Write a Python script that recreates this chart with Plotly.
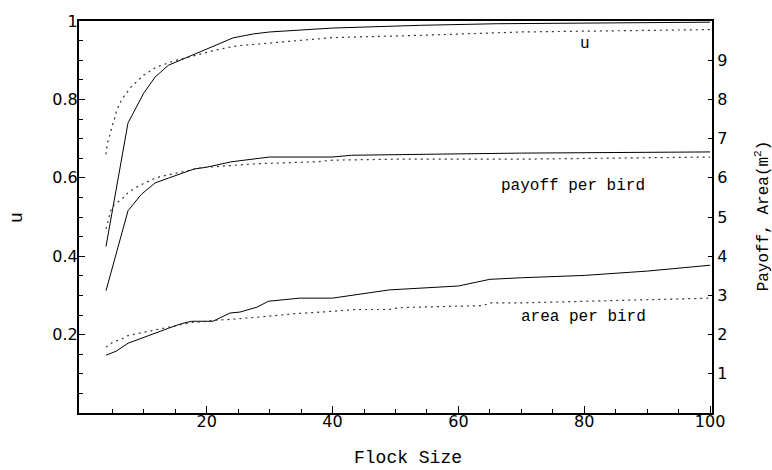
import plotly.graph_objects as go

# Flock size samples and curves (u on the left axis; payoff/area on the right axis)
u_solid_x = [4, 7.5, 10, 11.8, 13.9, 17.6, 20, 23.2, 24.2, 27.4, 30, 40, 54, 66, 80, 100]
u_solid_y = [0.425, 0.74, 0.816, 0.857, 0.887, 0.912, 0.928, 0.949, 0.957, 0.967, 0.972,
             0.982, 0.989, 0.993, 0.995, 0.997]

u_dot_x = [4, 4.2, 4.6, 4.9, 5.4, 5.7, 6.5, 8, 10, 12, 15, 19, 22, 25, 28, 35, 40, 55, 70, 100]
u_dot_y = [0.66, 0.687, 0.708, 0.728, 0.753, 0.772, 0.8, 0.832, 0.862, 0.8825, 0.899, 0.916,
           0.928, 0.937, 0.941, 0.949, 0.9575, 0.964, 0.972, 0.978]

pay_solid_x = [4, 7.5, 9.6, 11.8, 13.9, 16, 18, 20, 24, 28, 30, 40, 43, 55, 70, 100]
pay_solid_y = [3.12, 5.16, 5.575, 5.87, 5.99, 6.12, 6.225, 6.27, 6.41, 6.49, 6.53, 6.53,
               6.575, 6.6, 6.63, 6.66]

pay_dot_x = [4, 4.9, 5.4, 6.5, 7.5, 8.6, 9.9, 11.2, 12.6, 13.9, 15.2, 16.5, 17.9, 19.2, 21,
             25, 28, 37.5, 40, 50, 70, 100]
pay_dot_y = [4.7, 5.24, 5.325, 5.45, 5.62, 5.74, 5.85, 5.95, 6.03, 6.075, 6.12, 6.16, 6.22,
             6.26, 6.28, 6.325, 6.36, 6.41, 6.45, 6.475, 6.475, 6.53]

area_solid_x = [4, 5.6, 7.5, 9.6, 11.8, 13.9, 16, 17.6, 21, 21.6, 23.7, 25.3, 28, 29.8, 34.8,
                40, 49, 60, 65, 70, 80, 90, 100]
area_solid_y = [1.475, 1.575, 1.78, 1.91, 2.03, 2.16, 2.28, 2.34, 2.34, 2.39, 2.55, 2.575,
                2.7, 2.85, 2.93, 2.93, 3.14, 3.24, 3.41, 3.45, 3.51, 3.62, 3.77]

area_dot_x = [4, 5.1, 6.5, 7.5, 9.1, 10.4, 11.8, 13.4, 15.5, 17.6, 19.2, 21, 24, 28.5, 33.8,
              39.6, 43.8, 49, 50.7, 64, 65, 70, 100]
area_dot_y = [1.68, 1.81, 1.89, 1.975, 2.03, 2.075, 2.13, 2.18, 2.24, 2.31, 2.325, 2.365,
              2.39, 2.45, 2.53, 2.59, 2.64, 2.64, 2.69, 2.74, 2.81, 2.81, 2.93]

x_ticks = [20, 40, 60, 80, 100]
x_minor = [5, 10, 15, 25, 30, 35, 45, 50, 55, 65, 70, 75, 85, 90, 95]
u_ticks = [0.2, 0.4, 0.6, 0.8, 1]
u_tick_text = ["0.2", "0.4", "0.6", "0.8", "1"]
u_minor = [0.05, 0.1, 0.15, 0.25, 0.3, 0.35, 0.45, 0.5, 0.55, 0.65, 0.7, 0.75, 0.85, 0.9, 0.95]
right_ticks = [1, 2, 3, 4, 5, 6, 7, 8, 9]

curve_labels = [("u", 80.1, 9.41), ("payoff per bird", 78.2, 5.78), ("area per bird", 79.9, 2.45)]

X_RANGE = [-0.29, 100.3]
U_RANGE = [0, 1]

SOLID = dict(color="black", width=1)
DOTTED = dict(color="#333333", width=1.2, dash="2px,4px")

fig = go.Figure()
fig.add_trace(go.Scatter(x=u_solid_x, y=u_solid_y, mode="lines", line=SOLID, yaxis="y"))
fig.add_trace(go.Scatter(x=u_dot_x, y=u_dot_y, mode="lines", line=DOTTED, yaxis="y"))
fig.add_trace(go.Scatter(x=pay_solid_x, y=pay_solid_y, mode="lines", line=SOLID, yaxis="y2"))
fig.add_trace(go.Scatter(x=pay_dot_x, y=pay_dot_y, mode="lines", line=DOTTED, yaxis="y2"))
fig.add_trace(go.Scatter(x=area_solid_x, y=area_solid_y, mode="lines", line=SOLID, yaxis="y2"))
fig.add_trace(go.Scatter(x=area_dot_x, y=area_dot_y, mode="lines", line=DOTTED, yaxis="y2"))
# empty trace that hosts the secondary axes carrying the minor tick marks
fig.add_trace(go.Scatter(x=[], y=[], mode="lines", xaxis="x2", yaxis="y3",
                         hoverinfo="skip"))

tick_font = dict(family="DejaVu Sans", size=16, color="black")
mono = "Liberation Mono"

for text, xv, yv in curve_labels:
    fig.add_annotation(x=xv, y=yv, xref="x", yref="y2", text=text, showarrow=False,
                       xanchor="center", yanchor="middle",
                       font=dict(family=mono, size=16, color="black"))

fig.add_annotation(x=0.52, y=-0.115, xref="paper", yref="paper", text="Flock Size",
                   showarrow=False, xanchor="center", yanchor="middle",
                   font=dict(family=mono, size=18, color="black"))
fig.add_annotation(x=-0.098, y=0.5, xref="paper", yref="paper", text="u", textangle=-90,
                   showarrow=False, xanchor="center", yanchor="middle",
                   font=dict(family=mono, size=18, color="black"))
fig.add_annotation(x=1.0795, y=0.5025, xref="paper", yref="paper",
                   text="Payoff, Area(m<sup>2</sup>)", textangle=-90,
                   showarrow=False, xanchor="center", yanchor="middle",
                   font=dict(family=mono, size=16, color="black"))

fig.update_layout(
    width=772, height=470,
    margin=dict(l=79, r=60, t=13, b=57),
    paper_bgcolor="white", plot_bgcolor="white",
    showlegend=False,
    xaxis=dict(range=X_RANGE, tickvals=x_ticks, ticks="inside", ticklen=7,
               tickwidth=1.2, tickcolor="black", showgrid=False, zeroline=False,
               showline=True, linecolor="black", linewidth=2, mirror=True,
               tickfont=tick_font, ticklabelstandoff=-7),
    xaxis2=dict(range=X_RANGE, overlaying="x", side="bottom", tickvals=x_minor,
                ticks="inside", ticklen=4, tickwidth=1, tickcolor="black",
                showticklabels=False, showgrid=False, zeroline=False, showline=False),
    yaxis=dict(range=U_RANGE, tickvals=u_ticks, ticktext=u_tick_text, ticks="inside",
               ticklen=6, tickwidth=1.2, tickcolor="black", showgrid=False, zeroline=False,
               showline=True, linecolor="black", linewidth=2, tickfont=tick_font,
               ticklabelstandoff=-4),
    yaxis2=dict(range=[0, 10], overlaying="y", side="right", tickvals=right_ticks,
                ticks="inside", ticklen=4, tickwidth=1.2, tickcolor="black", showgrid=False,
                zeroline=False, showline=True, linecolor="black", linewidth=2,
                tickfont=tick_font),
    yaxis3=dict(range=U_RANGE, overlaying="y", side="left", tickvals=u_minor,
                ticks="inside", ticklen=3.5, tickwidth=1, tickcolor="black",
                showticklabels=False, showgrid=False, zeroline=False, showline=False),
)

fig.write_html("out.html")
